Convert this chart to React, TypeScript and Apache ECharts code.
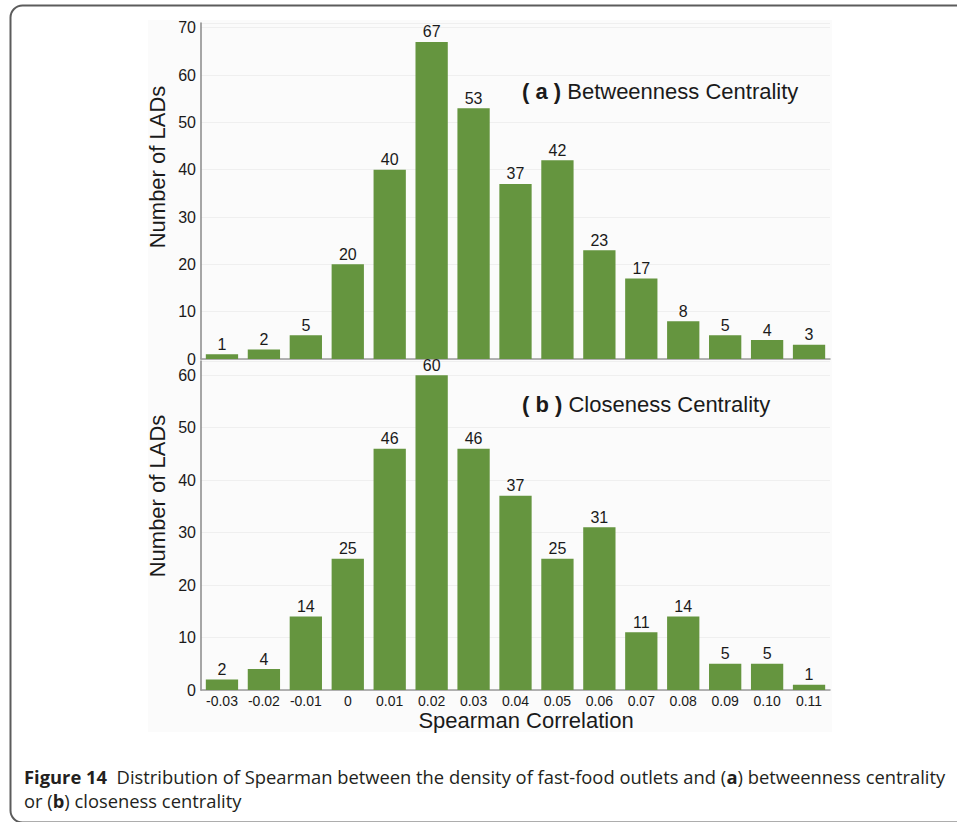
import React, { useEffect, useRef } from "react";
import * as echarts from "echarts";

// Spearman correlation bins shared by both panels
const categories = [
  "-0.03", "-0.02", "-0.01", "0", "0.01", "0.02", "0.03", "0.04",
  "0.05", "0.06", "0.07", "0.08", "0.09", "0.10", "0.11",
];

// (a) Betweenness centrality: number of LADs per bin
const betweennessCounts = [1, 2, 5, 20, 40, 67, 53, 37, 42, 23, 17, 8, 5, 4, 3];

// (b) Closeness centrality: number of LADs per bin
const closenessCounts = [2, 4, 14, 25, 46, 60, 46, 37, 25, 31, 11, 14, 5, 5, 1];

const BAR_COLOR = "#65953f";
const TEXT_COLOR = "#1a1a1a";
const FONT = "Arial";
const CAPTION_FONT = "'Open Sans'";

function yAxisFor(gridIndex: number, max: number) {
  return {
    type: "value",
    gridIndex,
    min: 0,
    max,
    interval: 10,
    axisLine: { show: true, lineStyle: { color: "#8a8a8a", width: 1.5 } },
    axisTick: { show: false },
    axisLabel: {
      fontSize: 16,
      fontFamily: FONT,
      color: TEXT_COLOR,
      margin: 5,
      formatter: (v: number) => (v % 10 === 0 ? String(v) : ""),
    },
    splitLine: { show: true, lineStyle: { color: "#efefef", width: 1 } },
  };
}

function xAxisFor(gridIndex: number, showLabels: boolean) {
  return {
    type: "category",
    gridIndex,
    data: categories,
    axisLine: { show: true, lineStyle: { color: "#9a9a9a", width: 1.5 } },
    axisTick: { show: false },
    axisLabel: {
      show: showLabels,
      fontSize: 14,
      fontFamily: FONT,
      color: TEXT_COLOR,
      margin: 4,
      interval: 0,
    },
  };
}

function barSeries(index: number, data: number[]) {
  return {
    type: "bar",
    xAxisIndex: index,
    yAxisIndex: index,
    data,
    barCategoryGap: "23%",
    itemStyle: { color: BAR_COLOR },
    label: {
      show: true,
      position: "top",
      distance: 2,
      fontSize: 16,
      fontFamily: FONT,
      color: TEXT_COLOR,
    },
  };
}

function axisTitle(text: string, x: number, y: number, vertical: boolean) {
  return {
    type: "text",
    x,
    y,
    rotation: vertical ? Math.PI / 2 : 0,
    style: {
      text,
      fontSize: 22,
      fontFamily: FONT,
      fill: TEXT_COLOR,
      align: "center",
      verticalAlign: "middle",
    },
  };
}

function panelTitle(tag: string, label: string, y: number) {
  return {
    type: "text",
    x: 522,
    y,
    style: {
      text: `{b|( ${tag} )} ${label}`,
      fontSize: 22,
      fontFamily: FONT,
      fill: TEXT_COLOR,
      verticalAlign: "middle",
      rich: {
        b: { fontSize: 22, fontWeight: "bold", fontFamily: FONT, fill: TEXT_COLOR },
      },
    },
  };
}

function captionLine(text: string, y: number) {
  return {
    type: "text",
    x: 24,
    y,
    scaleX: 1.02,
    style: {
      text,
      fontSize: 18,
      fontFamily: CAPTION_FONT,
      fill: "#231f20",
      verticalAlign: "middle",
      rich: {
        f: { fontSize: 18, fontWeight: "bold", fontFamily: CAPTION_FONT, fill: "#231f20" },
      },
    },
  };
}

export default function App() {
  const ref = useRef<HTMLDivElement>(null);

  useEffect(() => {
    if (!ref.current) return;
    const chart = echarts.init(ref.current, null, { renderer: "svg" });

    chart.setOption({
      animation: false,
      backgroundColor: "#ffffff",
      grid: [
        { left: 201, right: 127, top: 23, height: 336 },
        { left: 201, right: 127, top: 361, height: 329 },
      ],
      xAxis: [xAxisFor(0, false), xAxisFor(1, true)],
      yAxis: [yAxisFor(0, 71), yAxisFor(1, 62.7)],
      series: [barSeries(0, betweennessCounts), barSeries(1, closenessCounts)],
      graphic: [
        // figure panel frame with rounded corners
        {
          type: "rect",
          z: -20,
          shape: { x: 10.5, y: 5.5, width: 1000, height: 817, r: 12 },
          style: { fill: "#ffffff", stroke: "#5c5c5c", lineWidth: 2 },
        },
        // plot image backdrop
        {
          type: "rect",
          z: -10,
          shape: { x: 148, y: 20, width: 684, height: 712 },
          style: { fill: "#fbfbfb" },
        },
        axisTitle("Number of LADs", 157, 167, true),
        axisTitle("Number of LADs", 157, 496, true),
        axisTitle("Spearman Correlation", 526, 720, false),
        panelTitle("a", "Betweenness Centrality", 91),
        panelTitle("b", "Closeness Centrality", 404),
        captionLine(
          "{f|Figure 14}  Distribution of Spearman between the density of fast-food outlets and ({f|a}) betweenness centrality",
          777
        ),
        captionLine("or ({f|b}) closeness centrality", 801),
      ],
    });

    return () => chart.dispose();
  }, []);

  return (
    <div
      ref={ref}
      style={{ position: "absolute", left: 0, top: 0, width: 957, height: 822 }}
    />
  );
}
